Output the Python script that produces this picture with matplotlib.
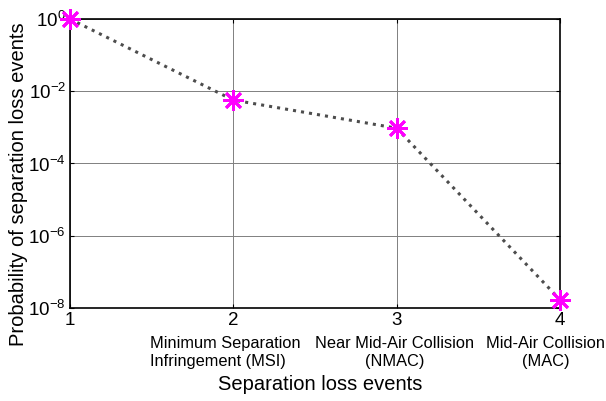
import matplotlib
matplotlib.use("Agg")
import matplotlib.pyplot as plt
from matplotlib.ticker import FixedLocator, NullLocator

plt.rcParams['font.family'] = ['Liberation Sans', 'DejaVu Sans']

# data
events = [1, 2, 3, 4]
probability = [1.0, 5.7e-3, 9.5e-4, 1.7e-8]
event_names = ['', 'Minimum Separation\nInfringement (MSI)',
               'Near Mid-Air Collision\n(NMAC)', 'Mid-Air Collision\n(MAC)']
name_shift = [0, -8, -2, -14]  # pixel nudges, last one keeps the label on the figure
name_align = ['center', 'left', 'center', 'center']
y_ticks = [1e-8, 1e-6, 1e-4, 1e-2, 1e0]

fig = plt.figure(figsize=(6.06, 4.01), dpi=100)
ax = fig.add_axes([0.1155, 0.232, 0.8085, 0.7206])

ax.semilogy(events, probability, linestyle=':', color='#4d4d4d', linewidth=2.2,
            marker=(8, 2, 0), markersize=15, markeredgecolor='magenta',
            markeredgewidth=2, markerfacecolor='magenta', zorder=3, clip_on=False)

ax.set_xlim(1, 4)
ax.set_ylim(1e-8, 1e0)
ax.set_xticks(events)
ax.set_xticklabels([str(e) for e in events], fontsize=13.5)
ax.yaxis.set_major_locator(FixedLocator(y_ticks))
ax.yaxis.set_minor_locator(NullLocator())
ax.set_yticklabels([r'$\mathregular{10^{%d}}$' % i for i in range(-8, 1, 2)], fontsize=13.5)
ax.tick_params(direction='in', top=True, right=True, length=3, width=0.8, pad=3)
ax.grid(True, color='#808080', linewidth=0.7)
for sp in ax.spines.values():
    sp.set_linewidth(1.2)

for e, name, dx, al in zip(events, event_names, name_shift, name_align):
    if name:
        ax.annotate(name, xy=(e, 0), xycoords=ax.get_xaxis_transform(),
                    xytext=(dx * 0.72, -20), textcoords='offset points',
                    ha='center', va='top', multialignment=al, fontsize=11.8,
                    linespacing=1.3, annotation_clip=False)

ax.set_xlabel('Separation loss events', fontsize=14.5, va='center')
ax.xaxis.set_label_coords(0.51, -0.266)
ax.set_ylabel('Probability of separation loss events', fontsize=14.5, va='center')
ax.yaxis.set_label_coords(-0.106, 0.43)

fig.savefig('out.png', dpi=100)
